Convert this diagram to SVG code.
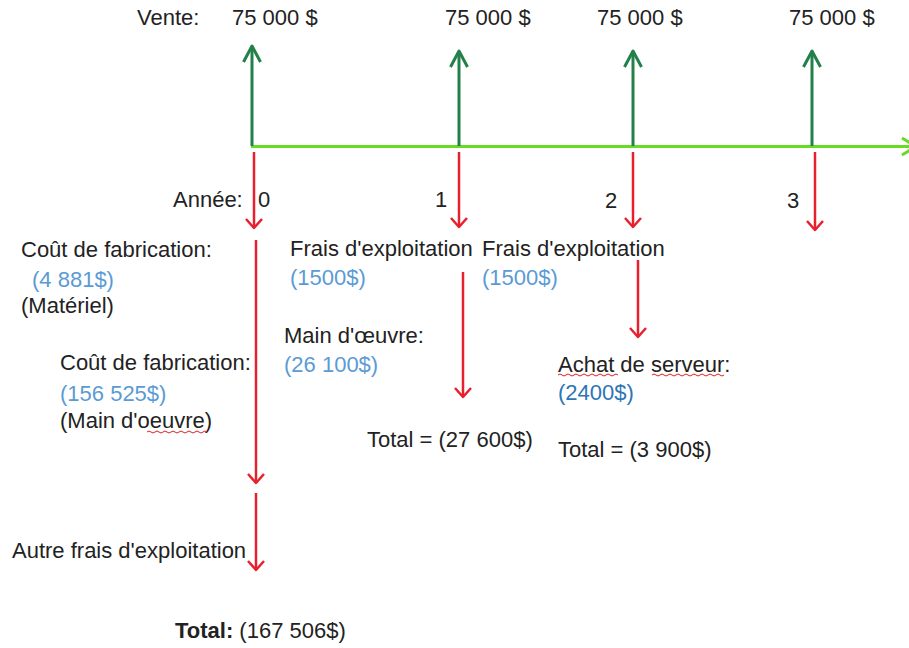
<svg xmlns="http://www.w3.org/2000/svg" width="909" height="648" viewBox="0 0 909 648">
<style>
text{font-family:"Liberation Sans",Arial,sans-serif;font-size:22px;fill:#222}
.b{fill:#5B9BD5}
.db{fill:#2E75B6}
.bold{font-weight:bold}
.g{stroke:#23804A;stroke-width:3;fill:none}
.axis{stroke:#66DD22;stroke-width:3;fill:none}
.r{stroke:#E8202E;stroke-width:2.5;fill:none}
.sq{stroke:#E02020;stroke-width:1;fill:none}
</style>
<defs>
<marker id="ag" markerUnits="userSpaceOnUse" markerWidth="20" markerHeight="20" orient="auto" overflow="visible">
<path d="M-16,-8.5 L0,0 L-16,8.5" fill="none" stroke="#23804A" stroke-width="3" stroke-linejoin="round"/>
</marker>
<marker id="al" markerUnits="userSpaceOnUse" markerWidth="20" markerHeight="20" orient="auto" overflow="visible">
<path d="M-14,-8.5 L0,0 L-14,8.5" fill="none" stroke="#66DD22" stroke-width="3"/>
</marker>
<marker id="ar" markerUnits="userSpaceOnUse" markerWidth="20" markerHeight="20" orient="auto" overflow="visible">
<path d="M-9,-8 L0,0 L-9,8" fill="none" stroke="#E8202E" stroke-width="2.5" stroke-linejoin="round"/>
</marker>
</defs>
<rect width="909" height="648" fill="#fff"/>
<g id="connectors">
<line class="axis" x1="251" y1="146.5" x2="916" y2="146.5" marker-end="url(#al)"/>
<line class="g" x1="252" y1="146" x2="252" y2="46" marker-end="url(#ag)"/>
<line class="g" x1="459" y1="146" x2="459" y2="51" marker-end="url(#ag)"/>
<line class="g" x1="633" y1="146" x2="633" y2="51" marker-end="url(#ag)"/>
<line class="g" x1="812" y1="146" x2="812" y2="51" marker-end="url(#ag)"/>
<line class="r" x1="254" y1="152" x2="254" y2="228" marker-end="url(#ar)"/>
<line class="r" x1="256" y1="240" x2="256" y2="483" marker-end="url(#ar)"/>
<line class="r" x1="256" y1="493" x2="256" y2="570" marker-end="url(#ar)"/>
<line class="r" x1="459" y1="152" x2="459" y2="227" marker-end="url(#ar)"/>
<line class="r" x1="463" y1="272" x2="463" y2="397" marker-end="url(#ar)"/>
<line class="r" x1="633" y1="152" x2="633" y2="227" marker-end="url(#ar)"/>
<line class="r" x1="638" y1="260" x2="638" y2="337" marker-end="url(#ar)"/>
<line class="r" x1="815" y1="152" x2="815" y2="230" marker-end="url(#ar)"/>
</g>
<g id="sales">
<text x="137" y="25">Vente:</text>
<text x="232" y="25">75 000 $</text>
<text x="445" y="25">75 000 $</text>
<text x="597" y="25">75 000 $</text>
<text x="789" y="25">75 000 $</text>
</g>
<g id="years">
<text x="173" y="207">Année:</text>
<text x="258" y="207">0</text>
<text x="435" y="207">1</text>
<text x="605" y="208">2</text>
<text x="787" y="208">3</text>
</g>
<g id="year0">
<text x="21" y="257">Coût de fabrication:</text>
<text class="b" x="32" y="287">(4 881$)</text>
<text x="21" y="313">(Matériel)</text>
<text x="60" y="370">Coût de fabrication:</text>
<text class="b" x="60" y="401">(156 525$)</text>
<text x="60" y="428">(Main d'oeuvre)</text>
<path class="sq" d="M147,432 q2,-2 4,0 t4,0 t4,0 t4,0 t4,0 t4,0 t4,0 t4,0 t4,0 t4,0 t4,0 t4,0 t4,0 t4,0 t4,0"/>
<text x="12" y="558">Autre frais d'exploitation</text>
<text x="175" y="638"><tspan class="bold">Total:</tspan> (167 506$)</text>
</g>
<g id="year1">
<text x="290" y="256">Frais d'exploitation</text>
<text class="b" x="290" y="285">(1500$)</text>
<text x="284" y="343">Main d'œuvre:</text>
<text class="b" x="284" y="372">(26 100$)</text>
<text x="367" y="447">Total = (27 600$)</text>
</g>
<g id="year2">
<text x="482" y="256">Frais d'exploitation</text>
<text class="b" x="482" y="285">(1500$)</text>
<text x="558" y="372">Achat de serveur:</text>
<path class="sq" d="M558,375 q2,-2 4,0 t4,0 t4,0 t4,0 t4,0 t4,0 t4,0 t4,0 t4,0 t4,0 t4,0 t4,0 t4,0 t4,0 t4,0"/>
<path class="sq" d="M652,375 q2,-2 4,0 t4,0 t4,0 t4,0 t4,0 t4,0 t4,0 t4,0 t4,0 t4,0 t4,0 t4,0 t4,0 t4,0 t4,0 t4,0 t4,0 t4,0"/>
<text class="db" x="558" y="400">(2400$)</text>
<text x="558" y="457">Total = (3 900$)</text>
</g>
</svg>
